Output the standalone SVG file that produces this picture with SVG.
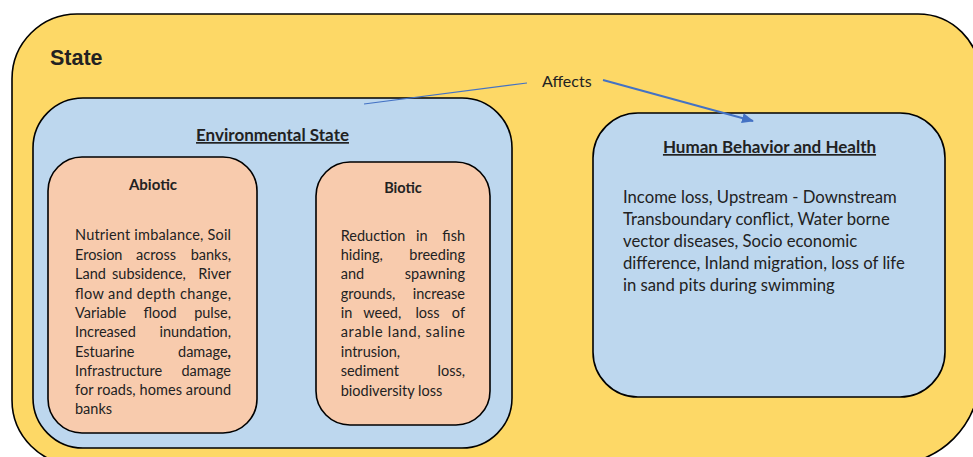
<svg xmlns="http://www.w3.org/2000/svg" width="973" height="457" viewBox="0 0 973 457">
  <style>
    .box { stroke: #000; stroke-width: 1.6; }
    .state { fill: #FDD866; }
    .blue { fill: #BDD7EE; }
    .peach { fill: #F8CBAD; }
    text { font-family: Lato, "Open Sans", "Liberation Sans", sans-serif; fill: #222; }
    .title { font-weight: bold; font-size: 17px; text-decoration: underline; text-anchor: middle; }
    .sub { font-weight: bold; font-size: 14.5px; text-anchor: middle; }
    .body { font-size: 14.5px; }
    .end { text-anchor: end; }
    .mid { text-anchor: middle; }
    .hbody { font-size: 16.7px; }
    .link { stroke: #4472C4; fill: none; }
  </style>
  <defs>
    <marker id="arrowhead" viewBox="0 0 12 10" refX="11" refY="5" markerWidth="12" markerHeight="10" markerUnits="userSpaceOnUse" orient="auto">
      <path d="M0,0 L12,5 L0,10 Z" fill="#4472C4"/>
    </marker>
  </defs>

  <rect width="973" height="457" fill="#fff"/>

  <!-- Outer "State" container -->
  <g id="state">
    <path class="box state" d="M77,14 H918 A62,62 0 0 1 980,76 V375 A90,90 0 0 1 890,465 H77 A65,65 0 0 1 12,400 V79 A65,65 0 0 1 77,14 Z"/>
    <text x="50" y="65" style="font-family:'Liberation Sans',Arial,sans-serif;font-weight:bold;font-size:21.5px">State</text>
  </g>

  <!-- Environmental State -->
  <g id="environmental-state">
    <rect class="box blue" x="33" y="98" width="479" height="350" rx="50" ry="50"/>
    <text class="title" x="272.5" y="141">Environmental State</text>
  </g>

  <!-- Abiotic -->
  <g id="abiotic">
    <rect class="box peach" x="48" y="157" width="209" height="276" rx="34" ry="34"/>
    <text class="sub" x="153" y="190" style="font-size:15px">Abiotic</text>
    <g>
      <text class="body" x="75" y="240" textLength="156" lengthAdjust="spacing">Nutrient imbalance, Soil</text>
      <text class="body" x="75" y="259.5">Erosion</text>
      <text class="body mid" x="156" y="259.5">across</text>
      <text class="body end" x="231" y="259.5">banks,</text>
      <text class="body" x="75" y="279">Land</text>
      <text class="body mid" x="149" y="279">subsidence,</text>
      <text class="body end" x="231" y="279">River</text>
      <text class="body" x="75" y="298.5" textLength="156" lengthAdjust="spacing">flow and depth change,</text>
      <text class="body" x="75" y="318">Variable</text>
      <text class="body mid" x="160" y="318">flood</text>
      <text class="body end" x="231" y="318">pulse,</text>
      <text class="body" x="75" y="337">Increased</text>
      <text class="body end" x="231" y="337">inundation,</text>
      <text class="body" x="75" y="356.5">Estuarine</text>
      <text class="body end" x="231" y="356.5">damage<tspan font-weight="bold">,</tspan></text>
      <text class="body" x="75" y="376">Infrastructure</text>
      <text class="body end" x="231" y="376">damage</text>
      <text class="body" x="75" y="395" textLength="156" lengthAdjust="spacing">for roads, homes around</text>
      <text class="body" x="75" y="414">banks</text>
    </g>
  </g>

  <!-- Biotic -->
  <g id="biotic">
    <rect class="box peach" x="316" y="162" width="174" height="263" rx="34" ry="34"/>
    <text class="sub" x="403" y="193">Biotic</text>
    <g>
      <text class="body" x="340.7" y="240.7">Reduction</text>
      <text class="body mid" x="421.7" y="240.7">in</text>
      <text class="body end" x="465" y="240.7">fish</text>
      <text class="body" x="340.7" y="260">hiding,</text>
      <text class="body end" x="465" y="260">breeding</text>
      <text class="body" x="340.7" y="279.3">and</text>
      <text class="body end" x="465" y="279.3">spawning</text>
      <text class="body" x="340.7" y="298.7">grounds,</text>
      <text class="body end" x="465" y="298.7">increase</text>
      <text class="body" x="340.7" y="318">in</text>
      <text class="body mid" x="382.2" y="318">weed,</text>
      <text class="body mid" x="427.5" y="318">loss</text>
      <text class="body end" x="465" y="318">of</text>
      <text class="body" x="340.7" y="337.3" textLength="124.3" lengthAdjust="spacing">arable land, saline</text>
      <text class="body" x="340.7" y="356.7">intrusion,</text>
      <text class="body" x="340.7" y="376">sediment</text>
      <text class="body end" x="465" y="376">loss,</text>
      <text class="body" x="340.7" y="395.7">biodiversity loss</text>
    </g>
  </g>

  <!-- Human Behavior and Health -->
  <g id="human-behavior">
    <rect class="box blue" x="593" y="113" width="352" height="284" rx="45" ry="45"/>
    <text class="title" x="769.5" y="153">Human Behavior and Health</text>
    <text class="hbody" x="623" y="203">Income loss, Upstream - Downstream</text>
    <text class="hbody" x="623" y="225">Transboundary conflict, Water borne</text>
    <text class="hbody" x="623" y="247">vector diseases, Socio economic</text>
    <text class="hbody" x="623" y="269">difference, Inland migration, loss of life</text>
    <text class="hbody" x="623" y="291">in sand pits during swimming</text>
  </g>

  <!-- Connector: Environmental State affects Human Behavior and Health -->
  <g id="connectors">
    <line class="link" x1="364" y1="104" x2="527" y2="83" stroke-width="1.2"/>
    <text x="542" y="87" style="font-size:16px">Affects</text>
    <line class="link" x1="603" y1="80" x2="753" y2="121" stroke-width="2" marker-end="url(#arrowhead)"/>
  </g>
</svg>
